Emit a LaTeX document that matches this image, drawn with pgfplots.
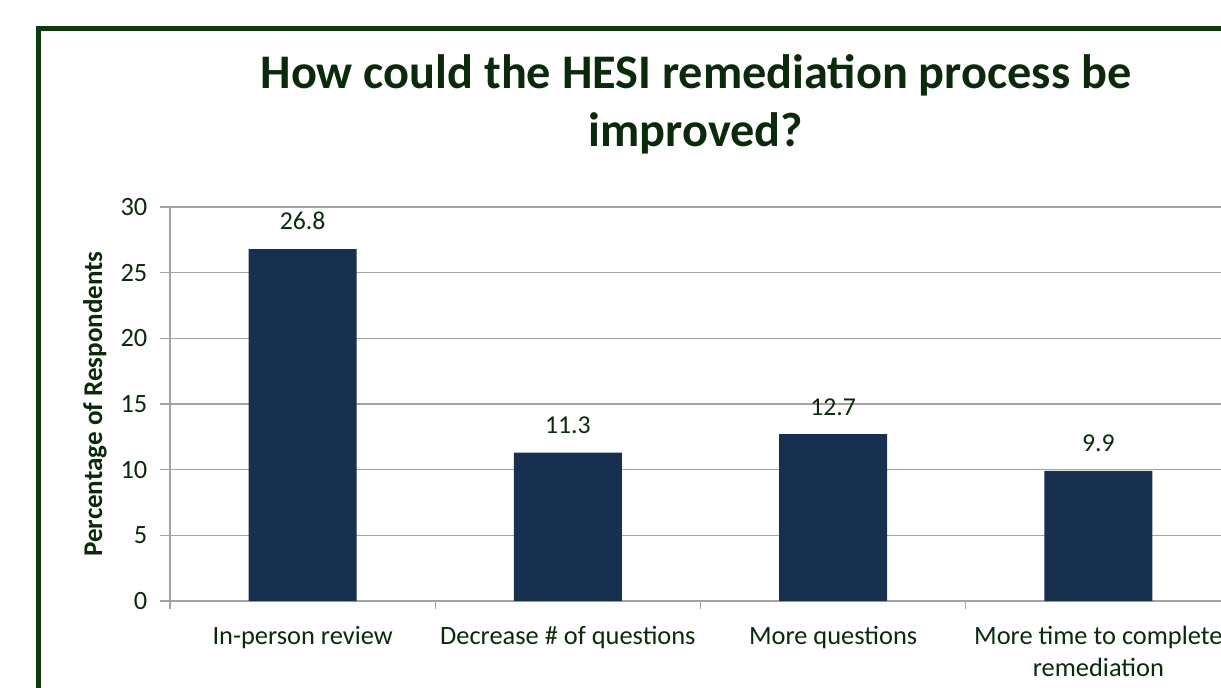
\documentclass[border=0pt]{standalone}
\usepackage{pgfplots}
\pgfplotsset{compat=1.18}
\usepackage{fontspec}
\setmainfont{Carlito}
\definecolor{txtgreen}{HTML}{0B2A0B}
\definecolor{framegreen}{HTML}{0E380E}
\definecolor{barblue}{HTML}{17304F}
\definecolor{gridgray}{HTML}{A3A3A3}
\begin{document}
\begin{tikzpicture}[x=0.75pt,y=0.75pt]
\clip (0,0) rectangle (1221,687);
% frame
\draw[framegreen,line width=3.75pt] (38.5,-50) -- (38.5,658.5) -- (1300,658.5);
% title
\node[align=center,text=txtgreen,font=\fontsize{36.2}{43.5}\selectfont\bfseries] at (696,583) {How could the HESI remediation process be\\improved?};
% y label
\node[rotate=90,text=txtgreen,font=\fontsize{20.3}{24}\selectfont\bfseries] at (95,283) {Percentage of Respondents};
\begin{axis}[
  at={(127.5pt,64.5pt)}, anchor=south west,
  scale only axis, width=795.75pt, height=295.5pt,
  xmin=-0.5, xmax=3.5, ymin=0, ymax=30,
  axis x line*=bottom, axis y line*=left,
  axis line style={gridgray, line width=0.9pt},
  ytick={0,5,...,30},
  ymajorgrids, grid style={gridgray, line width=0.9pt},
  xtick={0,1,2,3},
  xticklabels={In-person review, Decrease \# of questions, More questions, {More time to complete\\remediation}},
  minor xtick={-0.5,0.5,1.5,2.5,3.5},
  major x tick style={draw=none},
  minor x tick style={gridgray, line width=0.9pt},
  minor tick length=6pt,
  major tick length=7.5pt,
  y tick style={gridgray, line width=0.9pt},
  tick align=outside,
  /pgf/number format/assume math mode=true,
  tick label style={text=txtgreen, font=\fontsize{19.8}{24}\selectfont},
  x tick label style={align=center, yshift=-8pt},
  y tick label style={xshift=-6pt},
  ]
\addplot[ybar, bar width=81pt, fill=barblue, draw=none,
  nodes near coords,
  every node near coord/.append style={text=txtgreen, font=\fontsize{19.3}{22.5}\selectfont, inner sep=0pt, yshift=14pt},
  /pgf/number format/.cd, fixed, fixed zerofill, precision=1]
  coordinates {(0,26.8) (1,11.3) (2,12.7) (3,9.9)};
\end{axis}
\end{tikzpicture}
\end{document}
